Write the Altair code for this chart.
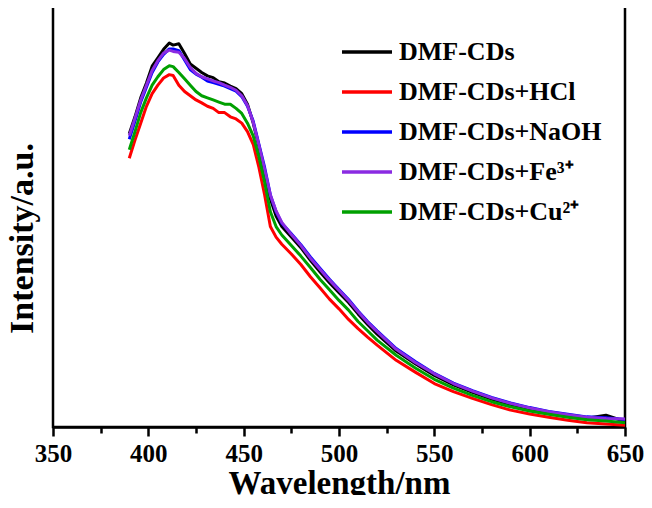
import altair as alt
import pandas as pd

wavelength = [390, 393, 396, 399, 402, 405, 408, 411, 413, 416, 419, 422, 425, 428, 431, 434,
              437, 440, 443, 446, 449, 452, 455, 458, 461, 464, 467, 470, 475, 480, 485, 490,
              495, 500, 505, 510, 515, 520, 530, 540, 550, 560, 570, 580, 590, 600, 610, 620,
              630, 640, 650]

dmf = [69.5, 73.5, 78, 81.5, 85.5, 87.5, 89.5, 91, 90.5, 90.8, 88.5, 86, 85, 84, 83.2, 82.8,
       81.8, 81.5, 80.8, 80.2, 79, 76.5, 72, 66.5, 60.5, 54, 50, 47.5, 45, 42.5, 39.5, 36.8,
       34.2, 31.8, 29.5, 26.8, 24.3, 22, 18, 15, 12.2, 10, 8.2, 6.6, 5.3, 4.3, 3.4, 2.7,
       2.1, 2.8, 1.3]
hcl = [63.7, 68, 72, 76, 79, 81, 82.7, 83.5, 83.3, 81, 79.5, 78.5, 77.5, 76.8, 76, 75.5,
       74.5, 74.5, 73.5, 73, 72, 70, 67, 61.5, 55, 47.5, 45, 43.3, 41, 38.5, 35.6, 33,
       30.3, 28, 25.5, 23.3, 21.3, 19.4, 15.8, 13, 10.3, 8.4, 6.8, 5.3, 4, 3.1, 2.3, 1.6,
       1.0, 0.7, 0.4]
naoh = [68.2, 72.5, 77, 80.5, 84, 86.5, 88.3, 89.6, 89.6, 89.2, 87, 84.7, 83.6, 82.9, 82, 81.6,
        81.2, 80.8, 80.2, 79.6, 78.3, 76, 72.5, 67, 61.5, 55, 51, 48.3, 45.8, 43.2, 40.3, 37.6,
        35, 32.6, 30.2, 27.5, 25, 22.8, 18.6, 15.5, 12.7, 10.4, 8.6, 7, 5.7, 4.6, 3.7, 3,
        2.4, 2.2, 1.8]
fe = [69, 73.2, 77.5, 81, 84.5, 86.8, 88.6, 89.3, 89, 88.8, 87.3, 85.2, 83.8, 83, 82.5, 82,
      81.6, 81, 80.5, 79.8, 78.5, 76.2, 72.2, 66.8, 61, 55, 51.2, 48.5, 45.6, 43, 40, 37.4,
      34.8, 32.4, 30, 27.3, 24.8, 22.6, 18.4, 15.3, 12.6, 10.3, 8.5, 6.9, 5.6, 4.5, 3.6, 2.9,
      2.3, 2.0, 1.9]
cu = [65.7, 70, 74.5, 78, 81, 83, 84.7, 85.6, 85.4, 84, 82.5, 81, 79.5, 78.5, 78, 77.5,
      77, 76.5, 76.5, 75.5, 74.3, 72, 69, 64, 58, 51, 47.5, 45.5, 43, 40.5, 37.8, 35,
      32.5, 30, 27.7, 25, 22.8, 20.6, 17, 14, 11.3, 9.2, 7.5, 6, 4.8, 3.8, 3, 2.3,
      1.7, 1.4, 1.0]

series_names = ["DMF-CDs", "DMF-CDs+HCl", "DMF-CDs+NaOH", "DMF-CDs+Fe³⁺", "DMF-CDs+Cu²⁺"]
series_values = [dmf, hcl, naoh, fe, cu]
colors = ["#000000", "#ff0000", "#0000ff", "#8a2be2", "#00a000"]

rows = []
for name, vals in zip(series_names, series_values):
    for w, v in zip(wavelength, vals):
        rows.append({"wavelength": w, "intensity": v, "sample": name})
df = pd.DataFrame(rows)

FONT = "Liberation Serif"

chart = alt.Chart(df).mark_line(strokeWidth=3, strokeJoin="round").encode(
    x=alt.X(
        "wavelength:Q",
        scale=alt.Scale(domain=[350, 650], nice=False, zero=False),
        axis=alt.Axis(
            title="Wavelength/nm",
            values=list(range(350, 651, 25)),
            labelExpr="datum.value % 50 === 0 ? datum.label : ''",
            tickSize={"condition": {"test": "datum.value % 50 === 0", "value": 9}, "value": 6},
            tickWidth=2.5,
            tickColor="black",
            domainColor="black",
            domainWidth=2.5,
            grid=False,
            labelFont=FONT,
            labelFontSize=25,
            labelFontWeight="bold",
            labelColor="black",
            labelPadding=5,
            labelFlush=False,
            titleFont=FONT,
            titleFontSize=33,
            titleFontWeight="bold",
            titleColor="black",
            titleBaseline="alphabetic",
            titleY=66,
        ),
    ),
    y=alt.Y(
        "intensity:Q",
        scale=alt.Scale(domain=[0, 100], nice=False),
        axis=alt.Axis(
            title="Intensity/a.u.",
            labels=False,
            ticks=False,
            domain=False,
            grid=False,
            titleFont=FONT,
            titleFontSize=34,
            titleFontWeight="bold",
            titleColor="black",
            titleAngle=270,
            titleAlign="center",
            titleBaseline="alphabetic",
            titleX=-21,
            titleY=233,
        ),
    ),
    color=alt.Color(
        "sample:N",
        sort=series_names,
        scale=alt.Scale(domain=series_names, range=colors),
        legend=alt.Legend(
            title=None,
            orient="none",
            legendX=287,
            legendY=20,
            symbolType="stroke",
            symbolSize=2500,
            symbolStrokeWidth=3.5,
            labelFont=FONT,
            labelFontSize=26,
            labelFontWeight="bold",
            labelColor="black",
            labelOffset=5,
            labelLimit=400,
            rowPadding=0,
            padding=0,
        ),
    ),
).properties(
    width=572,
    height=422,
    autosize=alt.AutoSizeParams(type="none"),
    padding={"left": 45, "top": -3, "right": 19, "bottom": 68},
).configure_view(
    stroke="black",
    strokeWidth=2.5,
)

chart.save("out.html", embed_options={"renderer": "svg", "actions": False})
